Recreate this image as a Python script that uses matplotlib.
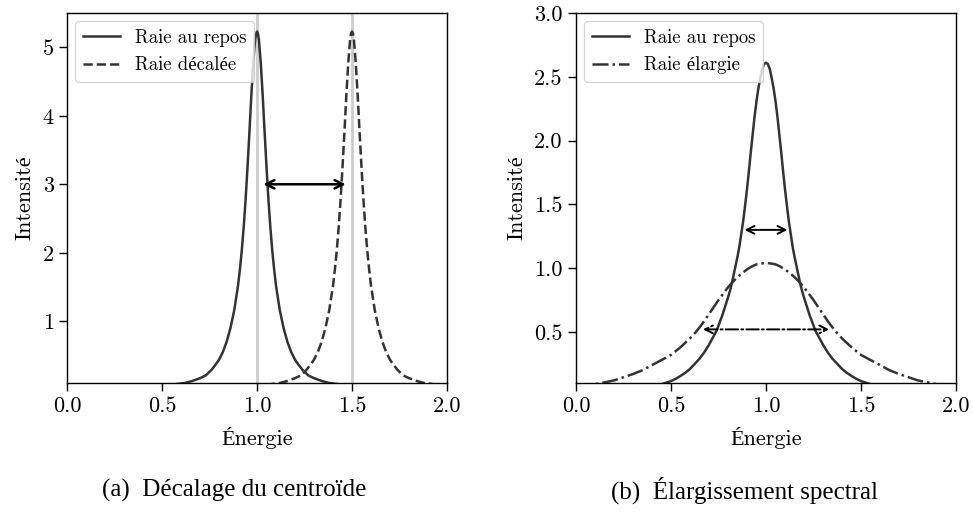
import matplotlib
matplotlib.use('Agg')
import matplotlib.pyplot as plt

# (a) raie au repos / raie decalee
x_rest = [0.00, 0.30, 0.45, 0.55, 0.62, 0.66, 0.70, 0.73, 0.76, 0.78, 0.80, 0.82, 0.84, 0.86, 0.88,
          0.90, 0.91, 0.92, 0.93, 0.94, 0.95, 0.96, 0.97, 0.98, 0.99, 0.995, 1.00,
          1.005, 1.01, 1.02, 1.03, 1.04, 1.05, 1.06, 1.07, 1.08, 1.09, 1.10,
          1.12, 1.14, 1.16, 1.18, 1.20, 1.22, 1.24, 1.27, 1.30, 1.34, 1.38, 1.45, 1.55, 1.70, 2.00]
y_rest = [0.02, 0.035, 0.05, 0.075, 0.10, 0.13, 0.17, 0.21, 0.29, 0.36, 0.44, 0.55, 0.70, 0.90, 1.16,
          1.52, 1.76, 2.04, 2.38, 2.78, 3.25, 3.76, 4.29, 4.76, 5.11, 5.20, 5.23,
          5.20, 5.11, 4.76, 4.29, 3.76, 3.25, 2.78, 2.38, 2.04, 1.76, 1.52,
          1.16, 0.90, 0.70, 0.55, 0.44, 0.36, 0.29, 0.21, 0.17, 0.13, 0.10, 0.075, 0.05, 0.035, 0.02]

x_shift = [0.00, 0.50, 0.80, 0.95, 1.05, 1.12, 1.16, 1.20, 1.23, 1.26, 1.28, 1.30, 1.32, 1.34, 1.36, 1.38,
           1.40, 1.41, 1.42, 1.43, 1.44, 1.45, 1.46, 1.47, 1.48, 1.49, 1.495, 1.50,
           1.505, 1.51, 1.52, 1.53, 1.54, 1.55, 1.56, 1.57, 1.58, 1.59, 1.60,
           1.62, 1.64, 1.66, 1.68, 1.70, 1.72, 1.74, 1.77, 1.80, 1.84, 1.88, 1.95, 2.00]
y_shift = [0.01, 0.02, 0.035, 0.05, 0.075, 0.10, 0.13, 0.17, 0.21, 0.29, 0.36, 0.44, 0.55, 0.70, 0.90, 1.16,
           1.52, 1.76, 2.04, 2.38, 2.78, 3.25, 3.76, 4.29, 4.76, 5.11, 5.20, 5.23,
           5.20, 5.11, 4.76, 4.29, 3.76, 3.25, 2.78, 2.38, 2.04, 1.76, 1.52,
           1.16, 0.90, 0.70, 0.55, 0.44, 0.36, 0.29, 0.21, 0.17, 0.13, 0.10, 0.075, 0.06]

centres = [1.0, 1.5]
shift_arrow_x = [1.033, 1.467]
shift_arrow_y = 3.0

# (b) raie au repos / raie elargie
x_narrow = [0.00, 0.20, 0.35, 0.45, 0.50, 0.525, 0.55, 0.575, 0.60, 0.625, 0.65, 0.675, 0.70, 0.72, 0.74,
            0.755, 0.77, 0.785, 0.80, 0.81, 0.82, 0.83, 0.84, 0.85, 0.86, 0.87, 0.88, 0.89,
            0.90, 0.91, 0.92, 0.93, 0.94, 0.95, 0.96, 0.97, 0.98, 0.99, 1.00,
            1.01, 1.02, 1.03, 1.04, 1.05, 1.06, 1.07, 1.08, 1.09, 1.10,
            1.11, 1.12, 1.13, 1.14, 1.15, 1.16, 1.17, 1.18, 1.19, 1.20, 1.215, 1.23, 1.245, 1.26,
            1.28, 1.30, 1.325, 1.35, 1.375, 1.40, 1.425, 1.45, 1.475, 1.50, 1.55, 1.65, 1.80, 2.00]
y_narrow = [0.03, 0.045, 0.065, 0.09, 0.115, 0.133, 0.155, 0.18, 0.21, 0.25, 0.29, 0.34, 0.40, 0.455, 0.51,
            0.57, 0.63, 0.70, 0.77, 0.82, 0.88, 0.95, 1.02, 1.09, 1.17, 1.27, 1.37, 1.49,
            1.62, 1.76, 1.91, 2.05, 2.19, 2.31, 2.41, 2.49, 2.56, 2.60, 2.61,
            2.60, 2.56, 2.49, 2.41, 2.31, 2.19, 2.05, 1.91, 1.76, 1.62,
            1.49, 1.37, 1.27, 1.17, 1.09, 1.02, 0.95, 0.88, 0.82, 0.77, 0.70, 0.63, 0.57, 0.51,
            0.455, 0.40, 0.34, 0.29, 0.25, 0.21, 0.18, 0.155, 0.133, 0.115, 0.09, 0.065, 0.045, 0.03]

x_broad = [0.00, 0.10, 0.20, 0.25, 0.30, 0.35, 0.40, 0.45, 0.50, 0.55, 0.60, 0.625, 0.65, 0.675, 0.70,
           0.725, 0.75, 0.775, 0.80, 0.825, 0.85, 0.875, 0.90, 0.925, 0.95, 0.975, 1.00,
           1.025, 1.05, 1.075, 1.10, 1.125, 1.15, 1.175, 1.20, 1.225, 1.25, 1.275, 1.30,
           1.325, 1.35, 1.375, 1.40, 1.45, 1.50, 1.55, 1.60, 1.65, 1.70, 1.75, 1.80, 1.90, 2.00]
y_broad = [0.07, 0.09, 0.12, 0.145, 0.17, 0.20, 0.24, 0.28, 0.32, 0.38, 0.45, 0.49, 0.535, 0.585, 0.64,
           0.695, 0.75, 0.80, 0.85, 0.892, 0.93, 0.962, 0.99, 1.013, 1.03, 1.037, 1.04,
           1.037, 1.03, 1.013, 0.99, 0.962, 0.93, 0.892, 0.85, 0.80, 0.75, 0.695, 0.64,
           0.585, 0.535, 0.49, 0.45, 0.38, 0.32, 0.28, 0.24, 0.20, 0.17, 0.145, 0.12, 0.09, 0.07]

narrow_arrow_x = [0.887, 1.113]
narrow_arrow_y = 1.3
broad_arrow_x = [0.668, 1.333]
broad_arrow_y = 0.52

LINE = '#333333'
SERIF = ['cmr10', 'Liberation Serif']


def style_axes(ax, ylim, yticks, ylabels):
    ax.set_xlim(0, 2)
    ax.set_ylim(*ylim)
    ax.set_xticks([0.0, 0.5, 1.0, 1.5, 2.0])
    ax.set_xticklabels(['0.0', '0.5', '1.0', '1.5', '2.0'])
    ax.set_yticks(yticks)
    ax.set_yticklabels(ylabels)
    ax.tick_params(labelsize=16, length=6, width=1)
    ax.set_xlabel('Énergie', fontsize=16, labelpad=8)
    ax.set_ylabel('Intensité', fontsize=16, labelpad=6)
    for s in ax.spines.values():
        s.set_linewidth(1.0)
    leg = ax.legend(loc='upper left', handlelength=2.0, borderaxespad=0.45,
                    prop={'family': SERIF, 'size': 13.5})
    leg.get_frame().set_edgecolor('#cccccc')


def double_arrow(ax, xs, y, lw, ls='-', scale=12):
    ax.annotate('', xy=(xs[1], y), xytext=(xs[0], y),
                arrowprops=dict(arrowstyle='<->', color='black', lw=lw, ls=ls,
                                mutation_scale=scale, shrinkA=0, shrinkB=0))


def main():
    plt.rcParams['font.family'] = SERIF
    plt.rcParams['axes.formatter.use_mathtext'] = True

    fig = plt.figure(figsize=(9.73, 5.16), dpi=100)
    ax1 = fig.add_axes([0.0689, 0.2578, 0.3905, 0.717])
    ax2 = fig.add_axes([0.592, 0.2578, 0.3905, 0.717])

    for c in centres:
        ax1.axvline(c, color='#cccccc', lw=2, zorder=1)
    ax1.plot(x_rest, y_rest, color=LINE, lw=1.8, label='Raie au repos', zorder=2)
    ax1.plot(x_shift, y_shift, color=LINE, lw=1.8, ls='--', label='Raie décalée', zorder=2)
    double_arrow(ax1, shift_arrow_x, shift_arrow_y, lw=1.8, scale=15)
    style_axes(ax1, (0.1, 5.5), [1, 2, 3, 4, 5], ['1', '2', '3', '4', '5'])

    ax2.plot(x_narrow, y_narrow, color=LINE, lw=1.8, label='Raie au repos')
    ax2.plot(x_broad, y_broad, color=LINE, lw=1.8, ls='-.', label='Raie élargie')
    double_arrow(ax2, narrow_arrow_x, narrow_arrow_y, lw=1.4, scale=14)
    double_arrow(ax2, broad_arrow_x, broad_arrow_y, lw=1.4, ls='-.', scale=14)
    style_axes(ax2, (0.1, 3.0), [0.5, 1.0, 1.5, 2.0, 2.5, 3.0],
               ['0.5', '1.0', '1.5', '2.0', '2.5', '3.0'])

    fig.text(0.2405, 0.05, '(a)  Décalage du centroïde', ha='center', va='center',
             fontsize=18, family=['Liberation Serif'])
    fig.text(0.7655, 0.05, '(b)  Élargissement spectral', ha='center', va='center',
             fontsize=18, family=['Liberation Serif'])

    fig.savefig('out.png', dpi=100)


if __name__ == '__main__':
    main()
